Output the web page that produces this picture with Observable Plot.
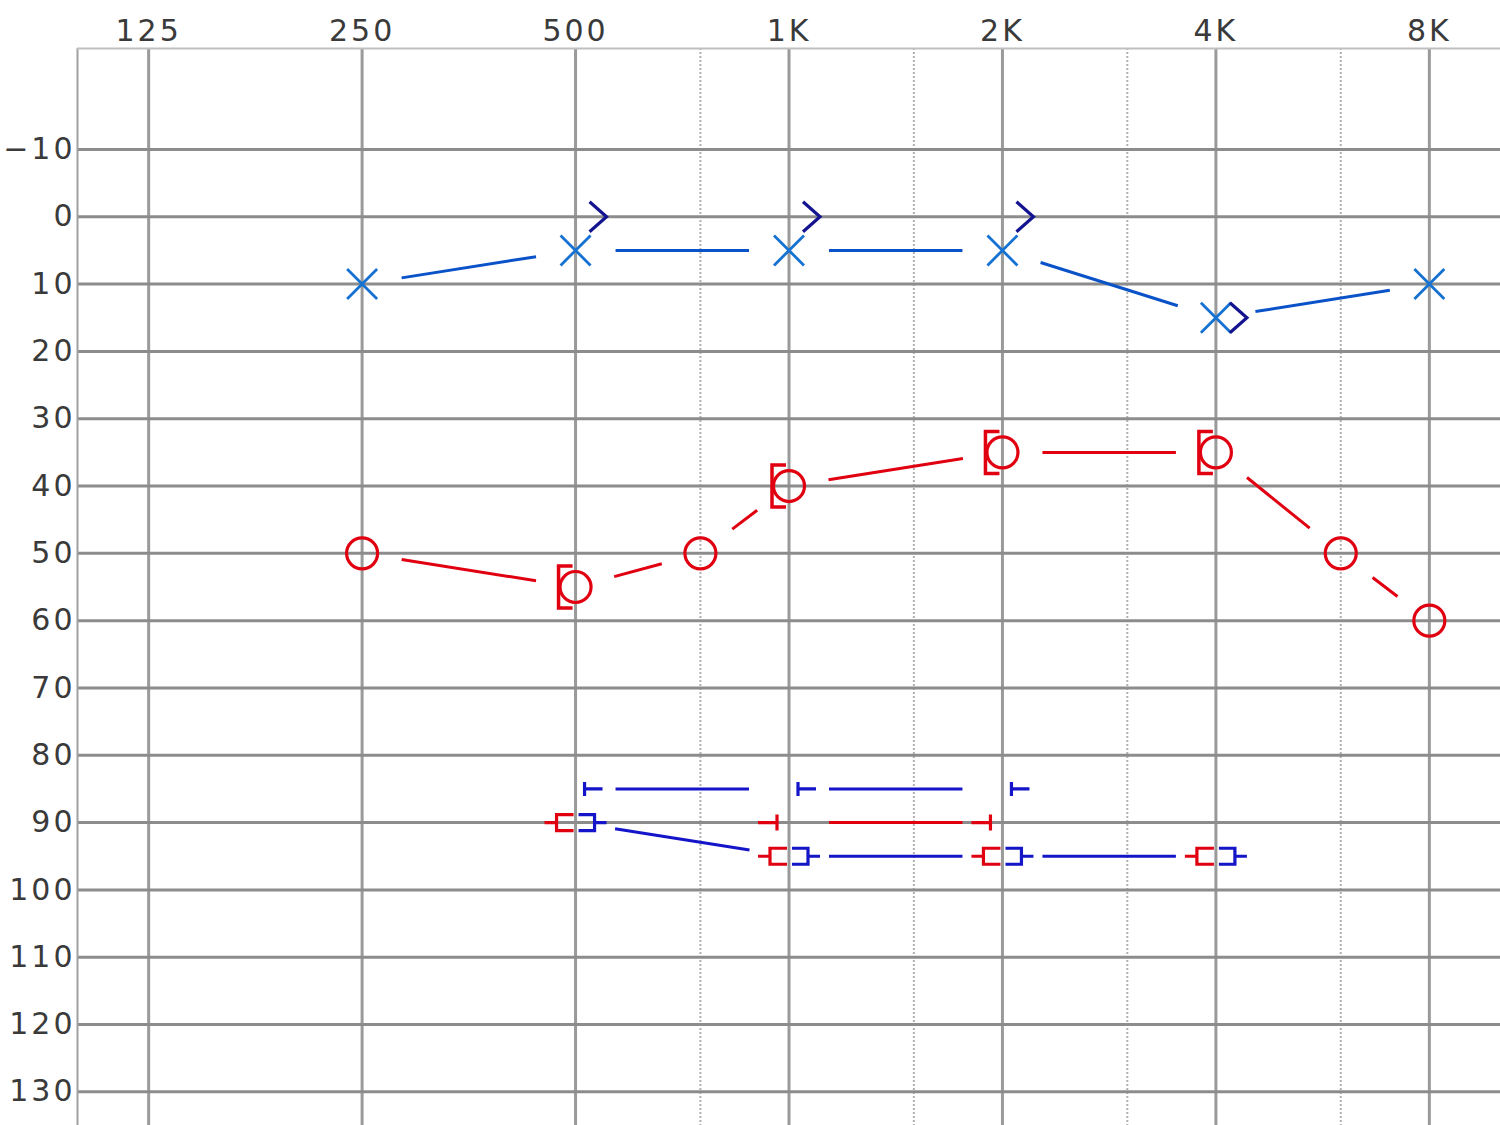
<!DOCTYPE html>
<html><head><meta charset="utf-8">
<script src="https://cdn.jsdelivr.net/npm/d3@7"></script>
<script src="https://cdn.jsdelivr.net/npm/@observablehq/plot@0.6"></script>
<style>
html,body{margin:0;padding:0;background:#fff;}
#chart svg{display:block;}
#chart svg text{letter-spacing:3px;}
</style></head><body><div id="chart"></div>
<script>
// ---- Axis ticks ----
const freqTicks = [125, 250, 500, 1000, 2000, 4000, 8000];
const freqLabels = ["125", "250", "500", "1K", "2K", "4K", "8K"];
const halfOctaves = [750, 1500, 3000, 6000];
const dbTicks = [-10, 0, 10, 20, 30, 40, 50, 60, 70, 80, 90, 100, 110, 120, 130];

// ---- Right ear air conduction (O) ----
const rightACFreq = [250, 500, 750, 1000, 2000, 4000, 6000, 8000];
const rightACdB   = [50, 55, 50, 40, 35, 35, 50, 60];
// ---- Right ear masked bone conduction ([) ----
const rightBCFreq = [500, 1000, 2000, 4000];
const rightBCdB   = [55, 40, 35, 35];
// ---- Left ear air conduction (X) ----
const leftACFreq = [250, 500, 1000, 2000, 4000, 8000];
const leftACdB   = [10, 5, 5, 5, 15, 10];
// ---- Left ear unmasked bone conduction (>) ----
const leftBCFreq = [500, 1000, 2000, 4000];
const leftBCdB   = [0, 0, 0, 15];
// ---- Masking levels ----
const maskBlueTFreq = [500, 1000, 2000];
const maskBlueTdB   = [85, 85, 85];
const maskRedTFreq  = [1000, 2000];
const maskRedTdB    = [90, 90];
const maskRedBrFreq = [500, 1000, 2000, 4000];
const maskRedBrdB   = [90, 95, 95, 95];
const maskBlueBrFreq = [500, 1000, 2000, 4000];
const maskBlueBrdB   = [90, 95, 95, 95];

// ---- helpers ----
const pts = (fs, ds) => fs.map((f, i) => ({f, db: ds[i]}));
const segs = (fs, ds) => fs.slice(1).map((f, i) => ({f1: fs[i], d1: ds[i], f2: f, d2: ds[i + 1]}));
const sym = (fn) => ({draw(ctx) { fn(ctx); }});

const symX = sym(c => { c.moveTo(-15,-15); c.lineTo(15,15); c.moveTo(-15,15); c.lineTo(15,-15); });
const symGt = sym(c => { c.moveTo(14,-15); c.lineTo(31,0); c.lineTo(14,15); });
const symLBr = sym(c => { c.moveTo(-3,-21); c.lineTo(-17,-21); c.lineTo(-17,21); c.lineTo(-3,21); });
const symBlueT = sym(c => { c.moveTo(9,-7); c.lineTo(9,7); c.moveTo(9,0); c.lineTo(27,0); });
const symRedT = sym(c => { c.moveTo(-12,-8); c.lineTo(-12,8); c.moveTo(-12,0); c.lineTo(-31,0); });
const symRedBr = sym(c => { c.moveTo(-31,0); c.lineTo(-19,0); c.moveTo(-2,-8); c.lineTo(-19,-8); c.lineTo(-19,8); c.lineTo(-2,8); });
const symBlueBr = sym(c => { c.moveTo(3,-8); c.lineTo(19,-8); c.lineTo(19,8); c.lineTo(3,8); c.moveTo(19,0); c.lineTo(31,0); });

const RED = "#e00010";
const XBLUE = "#1672d2";
const LBLUE = "#0a52c8";
const NAVY = "#141490";
const MBLUE = "#1414c8";

const connector = (fs, ds, color) => Plot.arrow(segs(fs, ds), {
  x1: "f1", y1: "d1", x2: "f2", y2: "d2", headLength: 0, inset: 40,
  stroke: color, strokeWidth: 3, strokeLinecap: "butt", bend: 0
});
const symbols = (fs, ds, s, color, w = 3.2) => Plot.dot(pts(fs, ds), {
  x: "f", y: "db", symbol: s, stroke: color, fill: "none", strokeWidth: w, r: 10
});

const xMin = 125 / Math.cbrt(2), xMax = 8000 * Math.cbrt(2);

const chart = Plot.plot({
  width: 1500, height: 1125,
  marginLeft: 77, marginTop: 48, marginRight: 0, marginBottom: 0,
  style: {background: "#fff", fontFamily: "DejaVu Sans"},
  x: {type: "log", base: 2, domain: [xMin, xMax], range: [77, 1500]},
  y: {domain: [-25, 135], range: [48, 1125]},
  marks: [
    Plot.ruleX(halfOctaves, {stroke: "#b0b0b0", strokeWidth: 2, strokeDasharray: "2,2"}),
    Plot.ruleX(freqTicks, {stroke: "#9a9a9a", strokeWidth: 3}),
    Plot.ruleY(dbTicks, {stroke: "#8c8c8c", strokeWidth: 3}),
    Plot.ruleX([xMin], {stroke: "#a0a0a0", strokeWidth: 2}),
    Plot.ruleY([-25], {stroke: "#c0c0c0", strokeWidth: 2}),
    Plot.axisX({anchor: "top", ticks: freqTicks, tickFormat: (d) => freqLabels[freqTicks.indexOf(d)],
      tickSize: 0, tickPadding: 8, fontSize: 30, fill: "#3a3a3a", label: null}),
    Plot.axisY({anchor: "left", ticks: dbTicks, tickFormat: (d) => d < 0 ? "\u2212" + Math.abs(d) : String(d),
      tickSize: 0, tickPadding: 2, fontSize: 30, fill: "#3a3a3a", label: null}),
    // connecting lines
    connector(leftACFreq, leftACdB, LBLUE),
    connector(rightACFreq, rightACdB, RED),
    connector(maskBlueTFreq, maskBlueTdB, MBLUE),
    connector(maskRedTFreq, maskRedTdB, RED),
    connector(maskBlueBrFreq, maskBlueBrdB, MBLUE),
    // symbols
    Plot.dot(pts(rightACFreq, rightACdB), {x: "f", y: "db", r: 15.5, stroke: RED, strokeWidth: 3.2, fill: "none"}),
    symbols(rightBCFreq, rightBCdB, symLBr, RED, 3.5),
    symbols(leftACFreq, leftACdB, symX, XBLUE, 2.8),
    symbols(leftBCFreq, leftBCdB, symGt, NAVY),
    symbols(maskBlueTFreq, maskBlueTdB, symBlueT, MBLUE),
    symbols(maskRedTFreq, maskRedTdB, symRedT, RED),
    symbols(maskRedBrFreq, maskRedBrdB, symRedBr, RED),
    symbols(maskBlueBrFreq, maskBlueBrdB, symBlueBr, MBLUE)
  ]
});
document.getElementById("chart").appendChild(chart);
</script></body></html>
